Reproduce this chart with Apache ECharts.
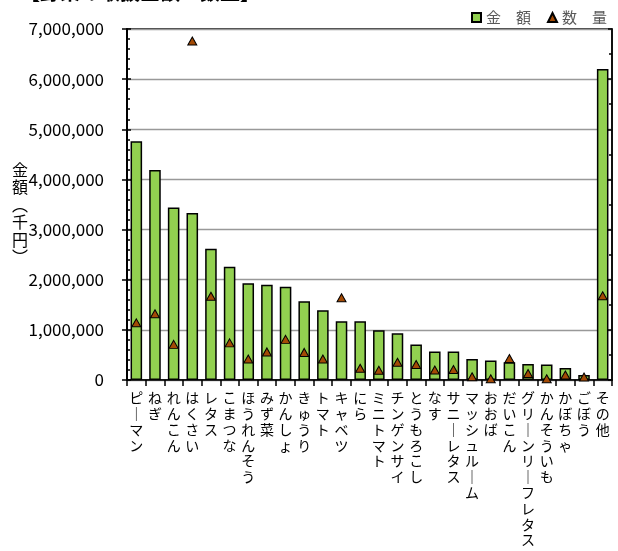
<!DOCTYPE html>
<html>
<head>
<meta charset="utf-8">
<script src="https://cdn.jsdelivr.net/npm/echarts@6/dist/echarts.min.js"></script>
<style>
  html, body { margin: 0; padding: 0; background: #fff; }
  #chart { width: 618px; height: 551px; }
</style>
</head>
<body>
<div id="chart"></div>
<script>
const categories = ['ピーマン', 'ねぎ', 'れんこん', 'はくさい', 'レタス', 'こまつな', 'ほうれんそう', 'みず菜', 'かんしょ', 'きゅうり', 'トマト', 'キャベツ', 'にら', 'ミニトマト', 'チンゲンサイ', 'とうもろこし', 'なす', 'サニーレタス', 'マッシュルーム', 'おおば', 'だいこん', 'グリーンリーフレタス', 'かんそういも', 'かぼちゃ', 'ごぼう', 'その他'];
const amounts = [4760000, 4190000, 3440000, 3330000, 2620000, 2260000, 1930000, 1900000, 1860000, 1570000, 1390000, 1170000, 1170000, 990000, 930000, 710000, 570000, 570000, 420000, 390000, 355000, 320000, 310000, 240000, 100000, 6200000];
const quantities = [1140, 1320, 710, 6760, 1670, 740, 420, 560, 810, 550, 420, 1640, 235, 195, 355, 310, 200, 210, 65, 25, 430, 130, 25, 100, 60, 1680];
const amountTicks = [0, 7000000, 1000000];
const quantityTicks = [0, 7000, 1000];

const chart = echarts.init(document.getElementById('chart'));
const font = '"Noto Sans CJK JP", "Noto Sans", sans-serif';

// vertical category labels: one character per line, long vowel turned upright
const verticalLabel = (s) => s.split('').map(c => (c === 'ー' ? '｜' : c)).join('\n');

chart.setOption({
  animation: false,
  textStyle: { fontFamily: font },
  grid: {
    left: 127, right: 6, top: 29, bottom: 171,
    show: true, borderColor: '#000', borderWidth: 1.5
  },
  legend: {
    right: 6, top: 5,
    itemWidth: 9, itemHeight: 9, itemGap: 16,
    textStyle: { fontSize: 15, color: '#595959', fontFamily: font },
    data: [{ name: '金　額', icon: 'rect' }, { name: '数　量', icon: 'triangle' }]
  },
  graphic: [
    {
      type: 'text', x: 20, y: -8,
      style: { text: '【野菜の取扱金額・数量】', fill: '#000', font: 'bold 20px ' + font, verticalAlign: 'middle' }
    },
    {
      type: 'text', x: 20, y: 161,
      style: { text: '金\n額\n︵\n千\n円\n︶', lineHeight: 17.5, fill: '#000', font: '16px ' + font, align: 'center', verticalAlign: 'top' }
    }
  ],
  xAxis: {
    type: 'category',
    data: categories,
    axisLine: { lineStyle: { color: '#000', width: 1.5 } },
    axisTick: { show: true, length: 6, lineStyle: { color: '#000', width: 1.5 } },
    axisLabel: {
      interval: 0, margin: 10, fontSize: 14, lineHeight: 15.8, color: '#000',
      verticalAlign: 'top',
      formatter: verticalLabel
    }
  },
  yAxis: [
    {
      type: 'value',
      min: amountTicks[0], max: amountTicks[1], interval: amountTicks[2],
      axisLine: { show: true, lineStyle: { color: '#000', width: 2 } },
      axisTick: { show: true, inside: true, length: 4, lineStyle: { color: '#000', width: 1.5 } },
      minorTick: { show: true, splitNumber: 5, length: 3, lineStyle: { color: '#000', width: 1.5 } },
      splitLine: { lineStyle: { color: '#999', width: 1.3 } },
      axisLabel: {
        margin: 23, fontSize: 17, color: '#000',
        formatter: v => v.toLocaleString('en-US')
      }
    },
    {
      type: 'value', position: 'right',
      min: quantityTicks[0], max: quantityTicks[1], interval: quantityTicks[2],
      axisLine: { show: true, lineStyle: { color: '#000', width: 1.5 } },
      axisTick: { show: true, inside: true, length: 4, lineStyle: { color: '#000', width: 1.5 } },
      minorTick: { show: true, splitNumber: 2, length: 3, lineStyle: { color: '#000', width: 1.5 } },
      splitLine: { show: false },
      axisLabel: { show: false }
    },
    {
      // outer half of the major ticks on the left axis
      type: 'value', position: 'left',
      min: amountTicks[0], max: amountTicks[1], interval: amountTicks[2],
      axisLine: { show: false },
      axisTick: { show: true, length: 5, lineStyle: { color: '#000', width: 1.5 } },
      splitLine: { show: false },
      axisLabel: { show: false }
    }
  ],
  series: [
    {
      name: '金　額', type: 'bar', data: amounts,
      barCategoryGap: '38%',
      itemStyle: { color: '#92D050', borderColor: '#000', borderWidth: 1.5 }
    },
    {
      name: '数　量', type: 'scatter', yAxisIndex: 1, data: quantities,
      symbol: 'triangle', symbolSize: [9, 8],
      itemStyle: { color: '#A34A05', borderColor: '#000', borderWidth: 1, opacity: 1 }
    }
  ]
});
</script>
</body>
</html>
